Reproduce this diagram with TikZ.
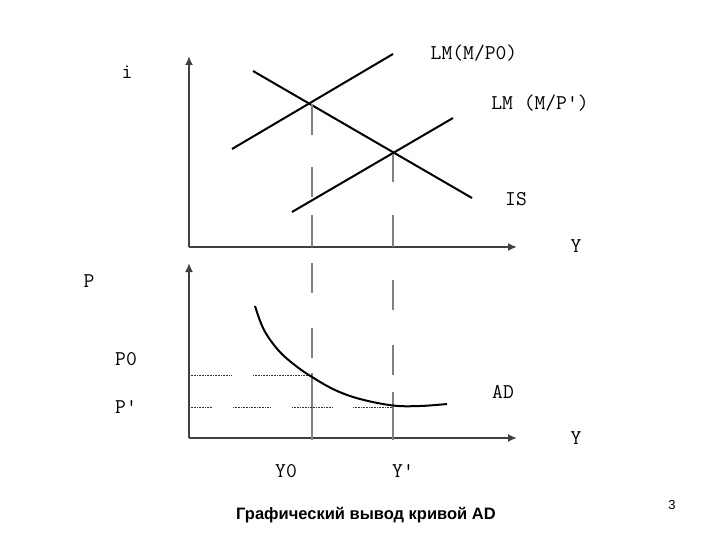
\documentclass[tikz,border=0pt]{standalone}
\usepackage{fontspec}
\setmainfont{Liberation Serif}
\newfontfamily\capfont{Liberation Sans}
\usetikzlibrary{arrows.meta}
\begin{document}
\begin{tikzpicture}[x=1pt,y=-1pt,
  axis/.style={line width=2pt,black!75,-{Latex[length=9pt,width=8pt]}},
  curve/.style={line width=2pt,black},
  guide/.style={line width=1.8pt,black!50},
  pguide/.style={line width=1pt,black!80,dash pattern=on 1pt off 0.6pt},
  lbl/.style={font=\ttfamily\fontsize{21}{21}\selectfont,inner sep=0pt}]
\useasboundingbox (0,0) rectangle (720,540);
% ---- top panel axes
\coordinate (o1) at (189,247);
\coordinate (iTop) at (189,56);
\coordinate (yEnd1) at (517,247);
\draw[axis] (o1) -- (iTop);
\draw[axis] (o1) -- (yEnd1);
% curves
\coordinate (lm0a) at (232,149); \coordinate (lm0b) at (393,54);
\coordinate (lm1a) at (292,212); \coordinate (lm1b) at (453,118);
\coordinate (isa) at (253,71);  \coordinate (isb) at (472,198);
\draw[curve] (lm0a) -- (lm0b);
\draw[curve] (lm1a) -- (lm1b);
\draw[curve] (isa) -- (isb);
% vertical guides, top
\draw[guide] (312,104) -- (312,135);
\draw[guide] (312,167) -- (312,197);
\draw[guide] (312,215) -- (312,247);
\draw[guide] (393,154) -- (393,182);
\draw[guide] (393,215) -- (393,247);
% ---- bottom panel axes
\coordinate (o2) at (189,438);
\coordinate (pTop) at (189,263);
\coordinate (yEnd2) at (517,438);
\draw[axis] (o2) -- (pTop);
\draw[axis] (o2) -- (yEnd2);
% vertical guides, bottom
\draw[guide] (312,263) -- (312,293);
\draw[guide] (312,328) -- (312,358);
\draw[guide] (312,373) -- (312,440);
\draw[guide] (393,280) -- (393,310);
\draw[guide] (393,345) -- (393,375);
\draw[guide] (393,392) -- (393,440);
% horizontal guides
\draw[pguide] (189,375) -- (232,375);
\draw[pguide] (253,375) -- (312,375);
\draw[pguide] (189,407) -- (212,407);
\draw[pguide] (233,407) -- (270,407);
\draw[pguide] (292,407) -- (333,407);
\draw[pguide] (353,407) -- (392,407);
% AD curve
\draw[curve] plot[smooth,tension=0.6] coordinates {(255,306) (264,330) (279,351) (296,366) (312,377) (335,390) (360,399) (393,405.5) (420,406) (447,404)};
% ---- labels
\node[lbl] (li) at (127,72) {i};
\node[lbl] (llm0) at (474,53) {LM(M/P0)};
\node[lbl] (llm1) at (540,103) {LM (M/P')};
\node[lbl] (lis) at (516,199) {IS};
\node[lbl] (ly1) at (576,246) {Y};
\node[lbl] (lp) at (89,281) {P};
\node[lbl] (lp0) at (126,359) {P0};
\node[lbl] (lp1) at (126,407) {P'};
\node[lbl] (lad) at (503,392) {AD};
\node[lbl] (ly2) at (576,438) {Y};
\node[lbl] (ly0) at (286,471) {Y0};
\node[lbl] (lyp) at (403,471) {Y'};
\node[font=\capfont\bfseries\fontsize{16.5}{17}\selectfont,inner sep=0pt] (cap) at (366,515) {Графический вывод кривой AD};
\node[font=\capfont\fontsize{13}{13}\selectfont,inner sep=0pt] (num) at (672,505) {3};
\end{tikzpicture}
\end{document}
